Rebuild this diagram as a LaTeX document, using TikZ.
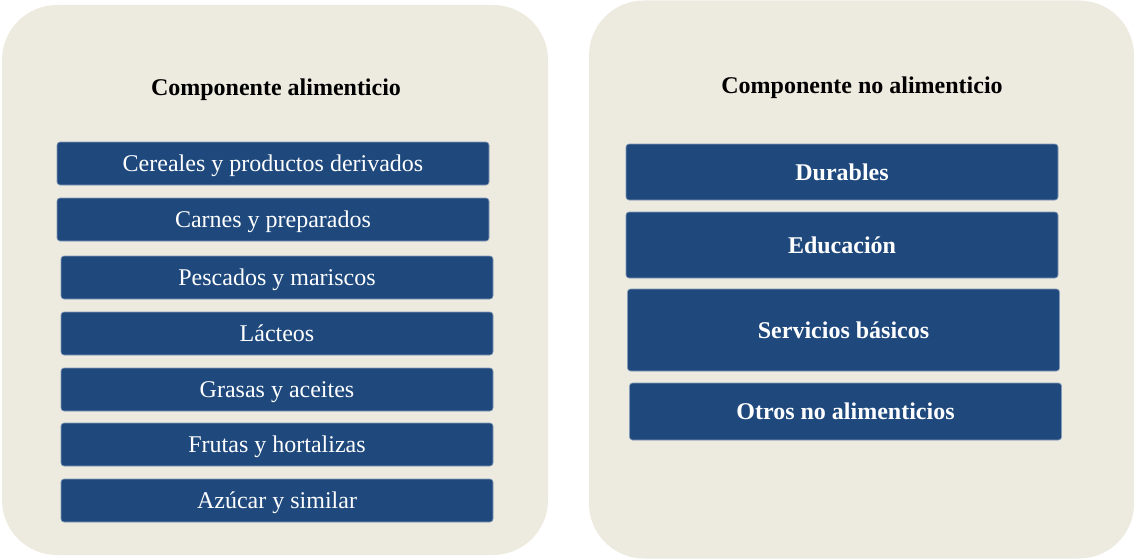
\documentclass[tikz,border=0pt]{standalone}
\usepackage{fontspec}
\setmainfont{Liberation Serif}
\usetikzlibrary{positioning}
\definecolor{panelbg}{HTML}{EDEAE0}
\definecolor{boxblue}{HTML}{1F497D}
\def\dy{13pt}
\tikzstyle{panel}=[fill=panelbg,rounded corners=55pt,inner sep=0pt]
\tikzstyle{item}=[fill=boxblue,draw=boxblue!55!white,line width=0.6pt,rounded corners=3pt,
    text=white,minimum width=432pt,minimum height=43pt,inner sep=0pt,outer sep=0pt,
    text depth=0pt,font=\fontsize{24}{28}\selectfont]
\tikzstyle{title}=[font=\fontsize{24}{28}\selectfont\bfseries]
\newcommand{\newItem}[4]{\node[item,#3](#1)[#4]{#2};}

\begin{document}
\begin{tikzpicture}[x=1pt,y=-1pt,node distance=\dy]
    \useasboundingbox (0,0) rectangle (1134,559);
    % panels
    \node[panel,minimum width=546pt,minimum height=550pt] (food) at (275,280) {};
    \node[panel,minimum width=545pt,minimum height=558pt] (nonfood) at (861.5,279.5) {};
    \node[title] (foodT) at (276,90) {Componente alimenticio};
    \node[title] (nonfoodT) at (862,87.5) {Componente no alimenticio};
    % alimenticio
    \newItem{cer}{Cereales y productos derivados}{at={(273,163.5)}}{}
    \newItem{car}{Carnes y preparados}{below=of cer}{}
    \newItem{pes}{Pescados y mariscos}{below=15pt of car,xshift=4pt}{}
    \newItem{lac}{Lácteos}{below=of pes}{}
    \newItem{gra}{Grasas y aceites}{below=of lac}{}
    \newItem{fru}{Frutas y hortalizas}{below=12pt of gra}{}
    \newItem{azu}{Azúcar y similar}{below=of fru}{}
    % no alimenticio
    \newItem{dur}{\bfseries Durables}{at={(842,172)}}{minimum height=56pt}
    \newItem{edu}{\bfseries Educación}{below=12pt of dur}{minimum height=66pt}
    \newItem{ser}{\bfseries Servicios básicos}{below=11pt of edu,xshift=1.5pt}{minimum height=82pt}
    \newItem{otr}{\bfseries Otros no alimenticios}{below=12pt of ser,xshift=2pt}{minimum height=57pt}
\end{tikzpicture}
\end{document}
